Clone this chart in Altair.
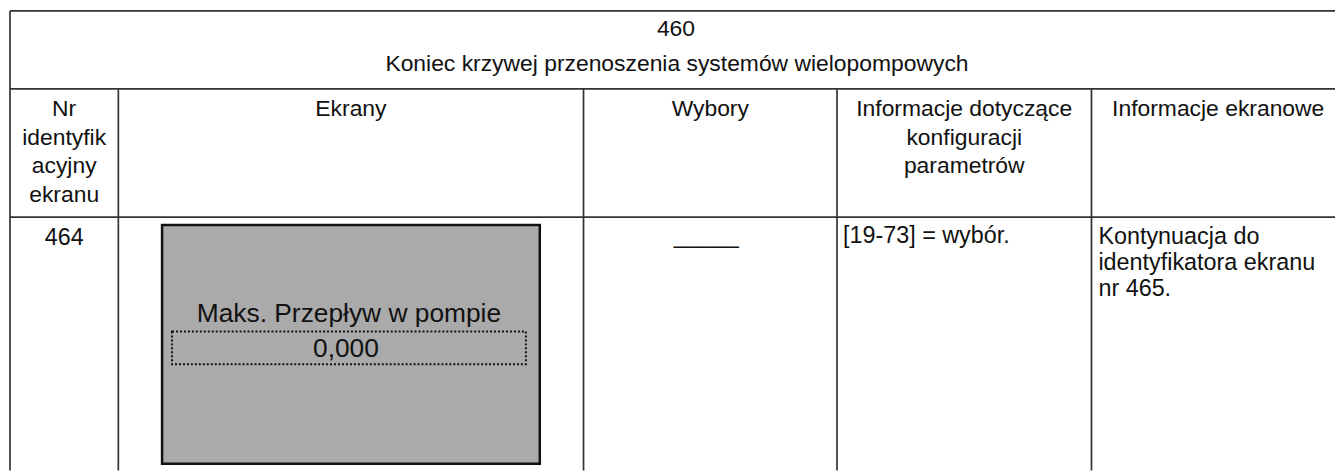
import altair as alt
import pandas as pd

# ---- content (text of the table) ----
title_lines = ["460", "Koniec krzywej przenoszenia systemów wielopompowych"]
header_labels = [
    ["Nr", "identyfik", "acyjny", "ekranu"],
    ["Ekrany"],
    ["Wybory"],
    ["Informacje dotyczące", "konfiguracji", "parametrów"],
    ["Informacje ekranowe"],
]
row_id = "464"
screen_label = "Maks. Przepływ w pompie"
screen_value = "0,000"
choices = "_____"
param_info = ["[19-73] = wybór."]
screen_info = ["Kontynuacja do", "identyfikatora ekranu", "nr 465."]

# ---- layout (page pixel coordinates) ----
W, H = 1335, 464
X0, Y0 = 8, 8
col_edges = [10, 119, 587, 842, 1098, 1353]
row_edges = [9.5, 88, 217, 490]
title_centers = [680, 681]
title_baselines = [35, 70]
head_base, head_lh = 115, 29
body_base, body_lh = 244, 26
FS_HEAD, FS_BODY, FS_SCREEN = 23, 23.5, 26.5
INK = "#111111"
LINE = "#333333"

xs = alt.Scale(domain=[X0, X0 + W], nice=False, zero=False)
ys = alt.Scale(domain=[Y0, Y0 + H], nice=False, zero=False, reverse=True)

# grid lines
rules = []
for y in row_edges[:3]:
    rules.append({"x": col_edges[0], "x2": col_edges[-1], "y": y, "y2": y})
rules.append({"x": col_edges[0], "x2": col_edges[0], "y": row_edges[0], "y2": row_edges[-1]})
rules.append({"x": col_edges[-1], "x2": col_edges[-1], "y": row_edges[0], "y2": row_edges[-1]})
for x in col_edges[1:-1]:
    rules.append({"x": x, "x2": x, "y": row_edges[1], "y2": row_edges[-1]})
rules_df = pd.DataFrame(rules)

rule_layer = alt.Chart(rules_df).mark_rule(color=LINE, strokeWidth=1.7, clip=True).encode(
    x=alt.X("x:Q", scale=xs, axis=None),
    x2="x2:Q",
    y=alt.Y("y:Q", scale=ys, axis=None),
    y2="y2:Q",
)

# centered texts
centered = []
for t, cx, by in zip(title_lines, title_centers, title_baselines):
    centered.append({"t": t, "x": cx, "y": by, "s": FS_HEAD})
for i, lines in enumerate(header_labels):
    cx = (col_edges[i] + col_edges[i + 1]) / 2
    for j, t in enumerate(lines):
        centered.append({"t": t, "x": cx, "y": head_base + j * head_lh, "s": FS_HEAD})
centered.append({"t": row_id, "x": (col_edges[0] + col_edges[1]) / 2, "y": 245, "s": FS_BODY})
centered.append({"t": choices, "x": (col_edges[2] + col_edges[3]) / 2 - 4, "y": 243, "s": FS_BODY})
centered.append({"t": screen_label, "x": 351, "y": 322, "s": FS_SCREEN})
centered.append({"t": screen_value, "x": 348, "y": 358, "s": FS_SCREEN})
centered_df = pd.DataFrame(centered)

# left-aligned texts
left = []
for j, t in enumerate(param_info):
    left.append({"t": t, "x": col_edges[3] + 6, "y": 243 + j * body_lh})
for j, t in enumerate(screen_info):
    left.append({"t": t, "x": col_edges[4] + 7, "y": body_base + j * body_lh})
left_df = pd.DataFrame(left)

# screen mock-up boxes
box_df = pd.DataFrame([{"x": 163, "x2": 543, "y": 225, "y2": 465}])
dot_df = pd.DataFrame([{"x": 173, "x2": 529, "y": 332, "y2": 365}])

box_layer = alt.Chart(box_df).mark_rect(fill="#aaaaaa", stroke="#111111", strokeWidth=2.5).encode(
    x=alt.X("x:Q", scale=xs, axis=None), x2="x2:Q",
    y=alt.Y("y:Q", scale=ys, axis=None), y2="y2:Q",
)
dot_layer = alt.Chart(dot_df).mark_rect(
    fillOpacity=0, stroke="#111111", strokeWidth=2, strokeDash=[2, 2]
).encode(
    x=alt.X("x:Q", scale=xs, axis=None), x2="x2:Q",
    y=alt.Y("y:Q", scale=ys, axis=None), y2="y2:Q",
)

center_text = alt.Chart(centered_df).mark_text(
    align="center", baseline="alphabetic", font="Liberation Sans", color=INK
).encode(
    x=alt.X("x:Q", scale=xs, axis=None),
    y=alt.Y("y:Q", scale=ys, axis=None),
    text="t:N",
    size=alt.Size("s:Q", scale=None, legend=None),
)
left_text = alt.Chart(left_df).mark_text(
    align="left", baseline="alphabetic", font="Liberation Sans", color=INK, fontSize=FS_BODY
).encode(
    x=alt.X("x:Q", scale=xs, axis=None),
    y=alt.Y("y:Q", scale=ys, axis=None),
    text="t:N",
)

chart = alt.layer(rule_layer, box_layer, dot_layer, center_text, left_text).properties(
    width=W, height=H, padding=0, autosize=alt.AutoSizeParams(type="none"),
    background="white",
).configure_view(stroke=None)

chart.save("out.html", embed_options={"renderer": "svg", "actions": False})
